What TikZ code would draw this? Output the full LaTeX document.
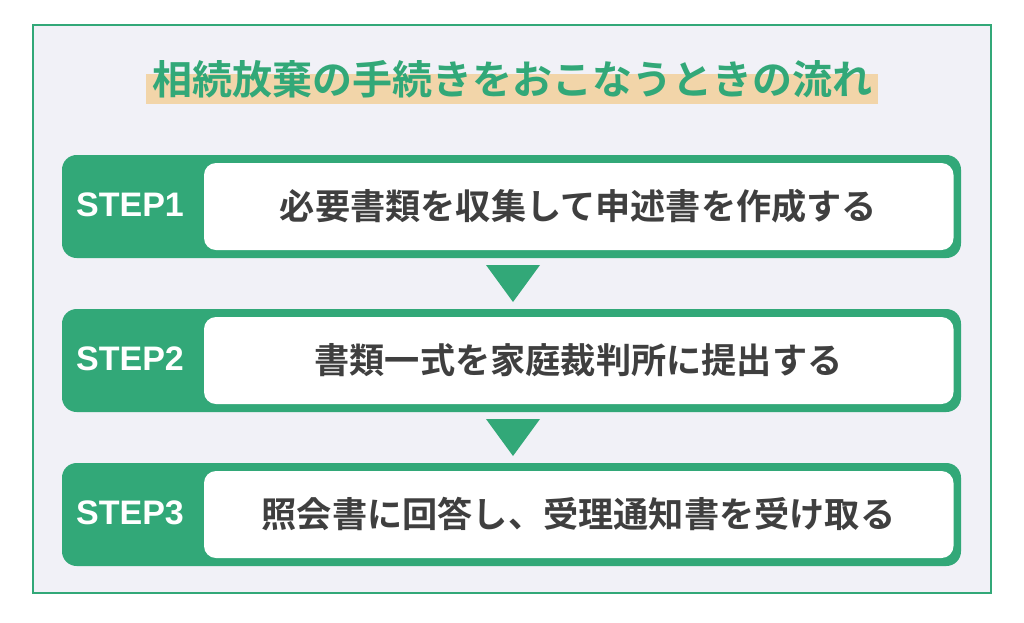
\documentclass[tikz,border=0pt]{standalone}
\usepackage{fontspec}
\setmainfont{Liberation Sans}
\newfontfamily\jpfont{Noto Sans CJK JP}[BoldFont={Noto Sans CJK JP Bold}]
\definecolor{stepgreen}{HTML}{32A878}
\definecolor{panelbg}{HTML}{F1F1F7}
\definecolor{markbg}{HTML}{F2D5A9}
\definecolor{textgray}{HTML}{3F3F3F}
\tikzset{
  stepbox/.style={fill=stepgreen, rounded corners=11pt},
  taskbox/.style={fill=white, rounded corners=9pt},
  steplabel/.style={text=white, font=\fontsize{25.5pt}{30pt}\selectfont\bfseries},
  tasklabel/.style={text=textgray, font=\jpfont\fontsize{26.4pt}{30pt}\selectfont\bfseries},
  downmark/.style={fill=stepgreen}
}
\begin{document}
\begin{tikzpicture}[x=0.75pt,y=-0.75pt]
            % ---------- canvas ----------
            \fill[white] (0,0) rectangle (1024,622);
            \useasboundingbox (0,0) rectangle (1024,622);
            \draw[stepgreen, line width=1.5pt, fill=panelbg]
                (32.5,24.5) rectangle (991,592.5);
            % ---------- title ----------
            \fill[markbg] (146,74) rectangle (878,104);
            \node[text=stepgreen, font=\jpfont\fontsize{30pt}{34pt}\selectfont\bfseries]
                (title) at (512,79) {相続放棄の手続きをおこなうときの流れ};
            % ---------- step 1 ----------
            \fill[stepbox] (62,155) rectangle (961,258);
            \fill[taskbox] (204,163) rectangle (953.5,250);
            \node[steplabel] (step1) at (130,205) {STEP1};
            \node[tasklabel] (task1) at (578.5,206) {必要書類を収集して申述書を作成する};
            % ---------- arrow 1-2 ----------
            \fill[downmark] (486,265) -- (540,265) -- (513,302) -- cycle;
            % ---------- step 2 ----------
            \fill[stepbox] (62,309) rectangle (961,412);
            \fill[taskbox] (204,317) rectangle (953.5,404);
            \node[steplabel] (step2) at (130,359) {STEP2};
            \node[tasklabel] (task2) at (578.5,360) {書類一式を家庭裁判所に提出する};
            % ---------- arrow 2-3 ----------
            \fill[downmark] (486,419) -- (540,419) -- (513,456) -- cycle;
            % ---------- step 3 ----------
            \fill[stepbox] (62,463) rectangle (961,566);
            \fill[taskbox] (204,471) rectangle (953.5,558);
            \node[steplabel] (step3) at (130,513) {STEP3};
            \node[tasklabel] (task3) at (578.5,514) {照会書に回答し、受理通知書を受け取る};
\end{tikzpicture}
\end{document}
